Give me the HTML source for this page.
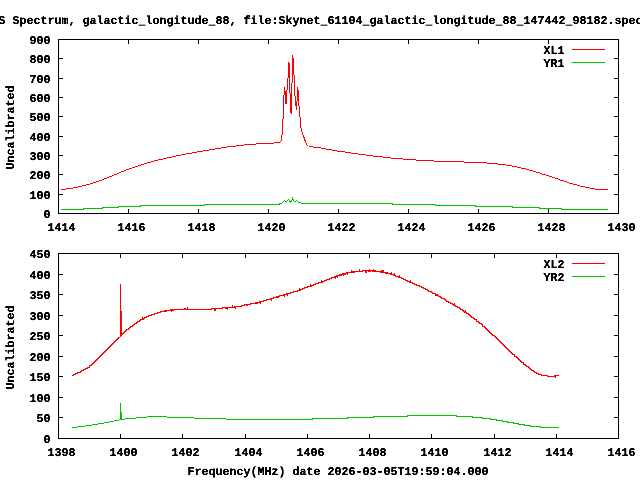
<!DOCTYPE html>
<html><head><meta charset="utf-8"><title>Spectrum</title>
<style>
html,body{margin:0;padding:0;background:#fff;overflow:hidden}
svg{display:block}
text{font-family:"Liberation Mono", "DejaVu Sans Mono", monospace;font-weight:bold;font-size:11.8px;fill:#000;stroke:#000;stroke-width:0.3px;text-rendering:geometricPrecision}
</style></head><body>
<svg width="640" height="480" viewBox="0 0 640 480">
<rect width="640" height="480" fill="#fff"/>
<defs><filter id="bin" x="0" y="0" width="640" height="480" filterUnits="userSpaceOnUse" color-interpolation-filters="sRGB"><feComponentTransfer><feFuncA type="linear" slope="2.2" intercept="-0.66"/></feComponentTransfer></filter></defs>
<rect x="58.5" y="39.5" width="560" height="174" fill="none" stroke="#000" stroke-width="1" shape-rendering="crispEdges"/>
<line x1="128.5" y1="209" x2="128.5" y2="213.5" stroke="#000" stroke-width="1" shape-rendering="crispEdges"/>
<line x1="128.5" y1="39.5" x2="128.5" y2="44" stroke="#000" stroke-width="1" shape-rendering="crispEdges"/>
<line x1="198.5" y1="209" x2="198.5" y2="213.5" stroke="#000" stroke-width="1" shape-rendering="crispEdges"/>
<line x1="198.5" y1="39.5" x2="198.5" y2="44" stroke="#000" stroke-width="1" shape-rendering="crispEdges"/>
<line x1="268.5" y1="209" x2="268.5" y2="213.5" stroke="#000" stroke-width="1" shape-rendering="crispEdges"/>
<line x1="268.5" y1="39.5" x2="268.5" y2="44" stroke="#000" stroke-width="1" shape-rendering="crispEdges"/>
<line x1="338.5" y1="209" x2="338.5" y2="213.5" stroke="#000" stroke-width="1" shape-rendering="crispEdges"/>
<line x1="338.5" y1="39.5" x2="338.5" y2="44" stroke="#000" stroke-width="1" shape-rendering="crispEdges"/>
<line x1="408.5" y1="209" x2="408.5" y2="213.5" stroke="#000" stroke-width="1" shape-rendering="crispEdges"/>
<line x1="408.5" y1="39.5" x2="408.5" y2="44" stroke="#000" stroke-width="1" shape-rendering="crispEdges"/>
<line x1="478.5" y1="209" x2="478.5" y2="213.5" stroke="#000" stroke-width="1" shape-rendering="crispEdges"/>
<line x1="478.5" y1="39.5" x2="478.5" y2="44" stroke="#000" stroke-width="1" shape-rendering="crispEdges"/>
<line x1="548.5" y1="209" x2="548.5" y2="213.5" stroke="#000" stroke-width="1" shape-rendering="crispEdges"/>
<line x1="548.5" y1="39.5" x2="548.5" y2="44" stroke="#000" stroke-width="1" shape-rendering="crispEdges"/>
<line x1="58.5" y1="194.5" x2="63" y2="194.5" stroke="#000" stroke-width="1" shape-rendering="crispEdges"/>
<line x1="614" y1="194.5" x2="618.5" y2="194.5" stroke="#000" stroke-width="1" shape-rendering="crispEdges"/>
<line x1="58.5" y1="174.5" x2="63" y2="174.5" stroke="#000" stroke-width="1" shape-rendering="crispEdges"/>
<line x1="614" y1="174.5" x2="618.5" y2="174.5" stroke="#000" stroke-width="1" shape-rendering="crispEdges"/>
<line x1="58.5" y1="155.5" x2="63" y2="155.5" stroke="#000" stroke-width="1" shape-rendering="crispEdges"/>
<line x1="614" y1="155.5" x2="618.5" y2="155.5" stroke="#000" stroke-width="1" shape-rendering="crispEdges"/>
<line x1="58.5" y1="136.5" x2="63" y2="136.5" stroke="#000" stroke-width="1" shape-rendering="crispEdges"/>
<line x1="614" y1="136.5" x2="618.5" y2="136.5" stroke="#000" stroke-width="1" shape-rendering="crispEdges"/>
<line x1="58.5" y1="116.5" x2="63" y2="116.5" stroke="#000" stroke-width="1" shape-rendering="crispEdges"/>
<line x1="614" y1="116.5" x2="618.5" y2="116.5" stroke="#000" stroke-width="1" shape-rendering="crispEdges"/>
<line x1="58.5" y1="97.5" x2="63" y2="97.5" stroke="#000" stroke-width="1" shape-rendering="crispEdges"/>
<line x1="614" y1="97.5" x2="618.5" y2="97.5" stroke="#000" stroke-width="1" shape-rendering="crispEdges"/>
<line x1="58.5" y1="78.5" x2="63" y2="78.5" stroke="#000" stroke-width="1" shape-rendering="crispEdges"/>
<line x1="614" y1="78.5" x2="618.5" y2="78.5" stroke="#000" stroke-width="1" shape-rendering="crispEdges"/>
<line x1="58.5" y1="58.5" x2="63" y2="58.5" stroke="#000" stroke-width="1" shape-rendering="crispEdges"/>
<line x1="614" y1="58.5" x2="618.5" y2="58.5" stroke="#000" stroke-width="1" shape-rendering="crispEdges"/>
<rect x="58.5" y="253.5" width="560" height="185" fill="none" stroke="#000" stroke-width="1" shape-rendering="crispEdges"/>
<line x1="120.5" y1="434" x2="120.5" y2="438.5" stroke="#000" stroke-width="1" shape-rendering="crispEdges"/>
<line x1="120.5" y1="253.5" x2="120.5" y2="258" stroke="#000" stroke-width="1" shape-rendering="crispEdges"/>
<line x1="182.5" y1="434" x2="182.5" y2="438.5" stroke="#000" stroke-width="1" shape-rendering="crispEdges"/>
<line x1="182.5" y1="253.5" x2="182.5" y2="258" stroke="#000" stroke-width="1" shape-rendering="crispEdges"/>
<line x1="245.5" y1="434" x2="245.5" y2="438.5" stroke="#000" stroke-width="1" shape-rendering="crispEdges"/>
<line x1="245.5" y1="253.5" x2="245.5" y2="258" stroke="#000" stroke-width="1" shape-rendering="crispEdges"/>
<line x1="307.5" y1="434" x2="307.5" y2="438.5" stroke="#000" stroke-width="1" shape-rendering="crispEdges"/>
<line x1="307.5" y1="253.5" x2="307.5" y2="258" stroke="#000" stroke-width="1" shape-rendering="crispEdges"/>
<line x1="369.5" y1="434" x2="369.5" y2="438.5" stroke="#000" stroke-width="1" shape-rendering="crispEdges"/>
<line x1="369.5" y1="253.5" x2="369.5" y2="258" stroke="#000" stroke-width="1" shape-rendering="crispEdges"/>
<line x1="431.5" y1="434" x2="431.5" y2="438.5" stroke="#000" stroke-width="1" shape-rendering="crispEdges"/>
<line x1="431.5" y1="253.5" x2="431.5" y2="258" stroke="#000" stroke-width="1" shape-rendering="crispEdges"/>
<line x1="494.5" y1="434" x2="494.5" y2="438.5" stroke="#000" stroke-width="1" shape-rendering="crispEdges"/>
<line x1="494.5" y1="253.5" x2="494.5" y2="258" stroke="#000" stroke-width="1" shape-rendering="crispEdges"/>
<line x1="556.5" y1="434" x2="556.5" y2="438.5" stroke="#000" stroke-width="1" shape-rendering="crispEdges"/>
<line x1="556.5" y1="253.5" x2="556.5" y2="258" stroke="#000" stroke-width="1" shape-rendering="crispEdges"/>
<line x1="58.5" y1="417.5" x2="63" y2="417.5" stroke="#000" stroke-width="1" shape-rendering="crispEdges"/>
<line x1="614" y1="417.5" x2="618.5" y2="417.5" stroke="#000" stroke-width="1" shape-rendering="crispEdges"/>
<line x1="58.5" y1="397.5" x2="63" y2="397.5" stroke="#000" stroke-width="1" shape-rendering="crispEdges"/>
<line x1="614" y1="397.5" x2="618.5" y2="397.5" stroke="#000" stroke-width="1" shape-rendering="crispEdges"/>
<line x1="58.5" y1="376.5" x2="63" y2="376.5" stroke="#000" stroke-width="1" shape-rendering="crispEdges"/>
<line x1="614" y1="376.5" x2="618.5" y2="376.5" stroke="#000" stroke-width="1" shape-rendering="crispEdges"/>
<line x1="58.5" y1="356.5" x2="63" y2="356.5" stroke="#000" stroke-width="1" shape-rendering="crispEdges"/>
<line x1="614" y1="356.5" x2="618.5" y2="356.5" stroke="#000" stroke-width="1" shape-rendering="crispEdges"/>
<line x1="58.5" y1="335.5" x2="63" y2="335.5" stroke="#000" stroke-width="1" shape-rendering="crispEdges"/>
<line x1="614" y1="335.5" x2="618.5" y2="335.5" stroke="#000" stroke-width="1" shape-rendering="crispEdges"/>
<line x1="58.5" y1="315.5" x2="63" y2="315.5" stroke="#000" stroke-width="1" shape-rendering="crispEdges"/>
<line x1="614" y1="315.5" x2="618.5" y2="315.5" stroke="#000" stroke-width="1" shape-rendering="crispEdges"/>
<line x1="58.5" y1="294.5" x2="63" y2="294.5" stroke="#000" stroke-width="1" shape-rendering="crispEdges"/>
<line x1="614" y1="294.5" x2="618.5" y2="294.5" stroke="#000" stroke-width="1" shape-rendering="crispEdges"/>
<line x1="58.5" y1="274.5" x2="63" y2="274.5" stroke="#000" stroke-width="1" shape-rendering="crispEdges"/>
<line x1="614" y1="274.5" x2="618.5" y2="274.5" stroke="#000" stroke-width="1" shape-rendering="crispEdges"/>
<line x1="572" y1="49.5" x2="605" y2="49.5" stroke="#ff0000" stroke-width="1" shape-rendering="crispEdges"/>
<line x1="572" y1="62.5" x2="605" y2="62.5" stroke="#00c000" stroke-width="1" shape-rendering="crispEdges"/>
<line x1="572" y1="263.5" x2="605" y2="263.5" stroke="#ff0000" stroke-width="1" shape-rendering="crispEdges"/>
<line x1="572" y1="276.5" x2="605" y2="276.5" stroke="#00c000" stroke-width="1" shape-rendering="crispEdges"/>
<polyline points="61,189.5 65.5,189.5 66.5,188.5 72.5,188.5 73.5,187.5 77.5,187.5 78.5,186.5 81.5,186.5 82.5,185.5 85.5,185.5 86.5,184.5 89.5,184.5 90.5,183.5 92.5,183.5 93.5,182.5 95.5,182.5 96.5,181.5 98.5,181.5 99.5,180.5 101.5,180.5 102.5,179.5 103.5,179.5 104.5,178.5 106.5,178.5 107.5,177.5 108.5,177.5 109.5,176.5 111.5,176.5 112.5,175.5 113.5,175.5 114.5,174.5 116.5,174.5 117.5,173.5 118.5,173.5 119.5,172.5 120.5,172.5 121.5,171.5 123.5,171.5 124.5,170.5 125.5,170.5 126.5,169.5 128.5,169.5 129.5,168.5 131.5,168.5 132.5,167.5 134.5,167.5 135.5,166.5 137.5,166.5 138.5,165.5 140.5,165.5 141.5,164.5 143.5,164.5 144.5,163.5 146.5,163.5 147.5,162.5 150.5,162.5 151.5,161.5 153.5,161.5 154.5,160.5 157.5,160.5 158.5,159.5 162.5,159.5 163.5,158.5 166.5,158.5 167.5,157.5 171.5,157.5 172.5,156.5 175.5,156.5 176.5,155.5 180.5,155.5 181.5,154.5 185.5,154.5 186.5,153.5 191.5,153.5 192.5,152.5 196.5,152.5 197.5,151.5 202.5,151.5 203.5,150.5 208.5,150.5 209.5,149.5 214.5,149.5 215.5,148.5 220.5,148.5 221.5,147.5 226.5,147.5 227.5,146.5 235.5,146.5 236.5,145.5 243.5,145.5 244.5,144.5 255.5,144.5 256.5,143.5 273.5,143.5 274.5,142.5 279.5,142.5 280.5,141.5" fill="none" stroke="#ff0000" stroke-width="1" shape-rendering="crispEdges"/>
<path d="M281.5 135V141M282.5 119V135M283.5 95V119M284.5 87V95M285.5 91V104M286.5 90V104M287.5 78V90M288.5 62V78M289.5 63V93M290.5 93V113M291.5 83V114M292.5 55V83M293.5 58V75M294.5 75V96M295.5 96V106M296.5 101V110M297.5 87V101M298.5 90V106M299.5 106V117M300.5 117V128M301.5 128V132M302.5 132V135M303.5 135V138M304.5 137V141M305.5 140V143M306.5 143V145M307.5 145V146" fill="none" stroke="#ff0000" stroke-width="1" shape-rendering="crispEdges"/>
<polyline points="308.5,146.5 312.5,146.5 313.5,147.5 320.5,147.5 321.5,148.5 325.5,148.5 326.5,149.5 331.5,149.5 332.5,150.5 336.5,150.5 337.5,151.5 344.5,151.5 345.5,152.5 350.5,152.5 351.5,153.5 357.5,153.5 358.5,154.5 365.5,154.5 366.5,155.5 372.5,155.5 373.5,156.5 382.5,156.5 383.5,157.5 390.5,157.5 391.5,158.5 402.5,158.5 403.5,159.5 415.5,159.5 416.5,160.5 433.5,160.5 434.5,161.5 463.5,161.5 464.5,162.5 486.5,162.5 487.5,163.5 497.5,163.5 498.5,164.5 505.5,164.5 506.5,165.5 511.5,165.5 512.5,166.5 516.5,166.5 517.5,167.5 520.5,167.5 521.5,168.5 525.5,168.5 526.5,169.5 528.5,169.5 529.5,170.5 532.5,170.5 533.5,171.5 535.5,171.5 536.5,172.5 539.5,172.5 540.5,173.5 541.5,173.5 542.5,174.5 545.5,174.5 546.5,175.5 548.5,175.5 549.5,176.5 551.5,176.5 552.5,177.5 554.5,177.5 555.5,178.5 557.5,178.5 558.5,179.5 559.5,179.5 560.5,180.5 563.5,180.5 564.5,181.5 566.5,181.5 567.5,182.5 568.5,182.5 569.5,183.5 572.5,183.5 573.5,184.5 576.5,184.5 577.5,185.5 579.5,185.5 580.5,186.5 584.5,186.5 585.5,187.5 589.5,187.5 590.5,188.5 594.5,188.5 595.5,189.5 607.5,189.5" fill="none" stroke="#ff0000" stroke-width="1" shape-rendering="crispEdges"/>
<polyline points="61,209.5 83,209.5 83,208.5 102,208.5 102,207.5 118,207.5 118,206.5 140,206.5 140,205.5 204,205.5 204,204.5 279,204.5 279.5,203.5 281.5,203.5 282.5,202.5 283.5,201.5 284.5,200.5 285.5,201.5 286.5,201.5 287.5,200.5 288.5,199.5 289.5,200.5 290.5,202.5 291.5,201.5 292.5,198.5 293.5,200.5 294.5,201.5 295.5,201.5 296.5,200.5 297.5,201.5 298.5,202.5 300.5,202.5 301.5,203.5 392,203.5 392,204.5 435,204.5 435,205.5 475,205.5 475,206.5 512.5,206.5 512.5,207.5 539.5,207.5 539.5,208.5 561.5,208.5 561.5,209.5 608,209.5" fill="none" stroke="#00c000" stroke-width="1" shape-rendering="crispEdges"/>
<polyline points="72,375.5 73,375.5 73.5,374.5 75.5,374.5 76,373.5 77.5,373.5 78,372.5 80,372.5 80.5,371.5 81.5,371.5 82,370.5 83.5,370.5 84,369.5 85.5,369.5 86,368.5 87.5,368.5 88,367.5 89,367.5 89.5,366.5 90,365.5 91,365.5 91.5,364.5 92,364.5 92.5,363.5 93,363.5 93.5,362.5 94,362.5 94.5,361.5 95,361.5 95.5,360.5 96,360.5 96.5,359.5 97,359.5 97.5,358.5 98,358.5 98.5,357.5 99,357.5 99.5,356.5 100,356.5 100.5,355.5 101,355.5 101.5,354.5 102,354.5 102.5,353.5 103,353.5 103.5,352.5 104,352.5 104.5,351.5 105,351.5 105.5,350.5 106,350.5 106.5,349.5 107,349.5 107.5,348.5 108,348.5 108.5,347.5 109,347.5 109.5,346.5 110,346.5 110.5,345.5 111,345.5 111.5,344.5 112,344.5 112.5,343.5 113,343.5 113.5,342.5 114,342.5 114.5,341.5 115,341.5 115.5,340.5 116.5,340.5 117,339.5 117.5,339.5 118,338.5 118.5,338.5 119,337.5 119.5,337.5 120.5,336.5 120.5,283.5 120.5,336.5 121.5,335.5 121.5,310.5 121.5,335.5 122.5,333.5 123,333.5 123.5,332.5 124.5,332.5 125,331.5 125.5,331.5 126,330.5 126.5,330.5 127,329.5 128,329.5 128.5,328.5 129.5,328.5 130,327.5 130.5,327.5 131,326.5 132.5,326.5 133,325.5 133.5,325.5 134,324.5 134.5,324.5 135,323.5 136.5,323.5 137,322.5 137.5,321.5 139,321.5 139.5,320.5 140,320.5 140.5,319.5 142,319.5 142.5,318.5 143,319.5 143.5,318.5 144,318.5 144.5,317.5 146.5,317.5 147,316.5 148,316.5 148.5,315.5 151.5,315.5 152,314.5 154.5,314.5 155,313.5 157,313.5 157.5,312.5 160.5,312.5 161,311.5 164,311.5 164.5,310.5 165.5,310.5 166,311.5 166.5,310.5 170.5,310.5 171,309.5 171.5,310.5 172,309.5 172.5,310.5 173,310.5 173.5,309.5 184.5,309.5 185,308.5 185.5,309.5 187,309.5 187.5,308.5 188,309.5 211.5,309.5 212,308.5 214,308.5 214.5,309.5 215,308.5 215.5,309.5 216,308.5 222.5,308.5 223,307.5 225,307.5 225.5,308.5 226.5,308.5 227,307.5 227.5,308.5 228,307.5 232,307.5 232.5,306.5 233,307.5 234.5,307.5 235,306.5 235.5,307.5 236,306.5 241,306.5 241.5,305.5 244,305.5 244.5,304.5 246.5,304.5 247,305.5 247.5,304.5 250.5,304.5 251,303.5 255,303.5 255.5,302.5 256.5,302.5 257,303.5 257.5,302.5 259,302.5 259.5,301.5 260,301.5 260.5,302.5 261,301.5 263,301.5 263.5,300.5 266.5,300.5 267,299.5 270,299.5 270.5,298.5 271,298.5 271.5,299.5 272,298.5 273,298.5 273.5,297.5 276,297.5 276.5,296.5 277.5,296.5 278,297.5 278.5,296.5 279.5,296.5 280,295.5 283,295.5 283.5,294.5 284,294.5 284.5,295.5 285,294.5 286.5,294.5 287,293.5 287.5,294.5 288,293.5 290,293.5 290.5,292.5 293.5,292.5 294,291.5 297,291.5 297.5,290.5 299,290.5 299.5,289.5 300,290.5 300.5,289.5 302.5,289.5 303,288.5 304.5,288.5 305,287.5 307,287.5 307.5,286.5 310,286.5 310.5,285.5 311,286.5 311.5,285.5 313,285.5 313.5,284.5 315.5,284.5 316,283.5 318.5,283.5 319,282.5 321,282.5 321.5,281.5 322,282.5 322.5,281.5 324.5,281.5 325,280.5 326,280.5 326.5,279.5 329,279.5 329.5,278.5 331.5,278.5 332,277.5 334.5,277.5 335,276.5 335.5,277.5 336,276.5 336.5,276.5 337,275.5 337.5,276.5 338,275.5 339.5,275.5 340,274.5 340.5,275.5 341,275.5 341.5,274.5 342.5,274.5 343,273.5 343.5,274.5 344,273.5 344.5,273.5 345,274.5 345.5,273.5 346.5,273.5 347,272.5 347.5,273.5 348,272.5 351,272.5 351.5,271.5 352,272.5 352.5,271.5 353.5,271.5 354,272.5 354.5,271.5 359,271.5 359.5,270.5 360,271.5 362.5,271.5 363,270.5 365,270.5 365.5,271.5 366,270.5 366.5,271.5 367,270.5 368,270.5 368.5,271.5 369,271.5 369.5,270.5 370,271.5 370.5,270.5 372,270.5 372.5,271.5 373,271.5 373.5,270.5 374,271.5 374.5,271.5 375,270.5 375.5,271.5 380,271.5 380.5,272.5 381,272.5 381.5,271.5 382,272.5 382.5,271.5 383,272.5 383.5,271.5 384,272.5 385.5,272.5 386,273.5 386.5,272.5 387,272.5 387.5,273.5 390.5,273.5 391,274.5 391.5,273.5 392,274.5 393,274.5 393.5,275.5 394,275.5 394.5,274.5 395,275.5 395.5,275.5 396,276.5 398.5,276.5 399,277.5 399.5,276.5 400,277.5 401.5,277.5 402,278.5 403,278.5 403.5,279.5 405.5,279.5 406,280.5 407,280.5 407.5,281.5 409.5,281.5 410,282.5 410.5,281.5 411,282.5 412,282.5 412.5,283.5 414,283.5 414.5,284.5 416.5,284.5 417,285.5 419.5,285.5 420,286.5 421.5,286.5 422,287.5 423,287.5 423.5,288.5 425.5,288.5 426,289.5 427.5,289.5 428,290.5 428.5,290.5 429,291.5 431.5,291.5 432,292.5 432.5,293.5 435,293.5 435.5,294.5 436,295.5 436.5,295.5 437,294.5 437.5,295.5 438.5,295.5 439,296.5 440,296.5 440.5,297.5 441.5,297.5 442,298.5 444,298.5 444.5,299.5 445.5,299.5 446,300.5 446.5,300.5 447,301.5 448.5,301.5 449,302.5 450,302.5 450.5,303.5 452,303.5 452.5,304.5 453.5,304.5 454,305.5 454.5,304.5 455,305.5 455.5,305.5 456,306.5 457.5,306.5 458,307.5 459,307.5 459.5,308.5 460.5,308.5 461,309.5 462,309.5 462.5,310.5 463,310.5 463.5,311.5 464.5,311.5 465,312.5 465.5,311.5 466,312.5 466.5,313.5 468,313.5 468.5,314.5 469,314.5 469.5,315.5 470,315.5 470.5,316.5 471.5,316.5 472,317.5 473.5,317.5 474,318.5 474.5,318.5 475,319.5 476,319.5 476.5,320.5 477,321.5 478.5,321.5 479,322.5 479.5,322.5 480,323.5 481,323.5 481.5,324.5 482,324.5 482.5,325.5 483,326.5 484,326.5 484.5,327.5 485.5,327.5 486,328.5 486.5,329.5 487.5,329.5 488,330.5 488.5,331.5 489.5,331.5 490,332.5 490.5,332.5 491,333.5 491.5,333.5 492,334.5 492.5,334.5 493,335.5 494,335.5 494.5,336.5 495,336.5 495.5,337.5 496,337.5 496.5,338.5 497,338.5 497.5,339.5 498.5,339.5 499,340.5 499.5,340.5 500,341.5 500.5,342.5 501.5,342.5 502,343.5 502.5,343.5 503,344.5 503.5,344.5 504,345.5 504.5,345.5 505,346.5 505.5,346.5 506,347.5 506.5,347.5 507,348.5 507.5,348.5 508,349.5 508.5,349.5 509,350.5 509.5,350.5 510,351.5 510.5,351.5 511,352.5 511.5,352.5 512,353.5 512.5,353.5 513,354.5 514,354.5 514.5,355.5 515,356.5 516,356.5 516.5,357.5 517.5,357.5 518,358.5 518.5,359.5 519.5,359.5 520,360.5 520.5,361.5 521.5,361.5 522,362.5 523,362.5 523.5,363.5 524,364.5 525,364.5 525.5,365.5 526.5,365.5 527,366.5 528,366.5 528.5,367.5 529,367.5 529.5,368.5 530.5,368.5 531,369.5 531.5,369.5 532,370.5 533,370.5 533.5,371.5 534,371.5 534.5,372.5 536,372.5 536.5,373.5 538,373.5 538.5,374.5 541,374.5 541.5,375.5 547,375.5 547.5,376.5 554.5,376.5 555,375.5 555.5,376.5 556,375.5 559,375.5" fill="none" stroke="#ff0000" stroke-width="1" shape-rendering="crispEdges"/>
<polyline points="72,427.5 76.5,427.5 77.5,426.5 84.5,426.5 85.5,425.5 91.5,425.5 92.5,424.5 97.5,424.5 98.5,423.5 103.5,423.5 104.5,422.5 108.5,422.5 109.5,421.5 113.5,421.5 114.5,420.5 118.5,420.5 119.5,419.5 120.5,419.5 120.5,402.5 120.5,419.5 121.5,419.5 121.5,411.5 121.5,419.5 124.5,419.5 125.5,418.5 135.5,418.5 136.5,417.5 146.5,417.5 147.5,416.5 166.5,416.5 167.5,417.5 193.5,417.5 194.5,418.5 225,418.5 227,419.5 312.5,419.5 312.5,418.5 347.5,418.5 347.5,417.5 373.7,417.5 373.7,416.5 407,416.5 407,415.5 456,415.5 456,416.5 472.5,416.5 472.5,417.5 482.5,417.5 482.5,418.5 490,418.5 490,419.5 496,419.5 496,420.5 502.5,420.5 502.5,421.5 507.5,421.5 507.5,422.5 513,422.5 513,423.5 518,423.5 518,424.5 524,424.5 524,425.5 530,425.5 530,426.5 540,426.5 540,427.5 559,427.5" fill="none" stroke="#00c000" stroke-width="1" shape-rendering="crispEdges"/>
<g filter="url(#bin)">
<text x="43.6" y="218" textLength="7" lengthAdjust="spacingAndGlyphs">0</text>
<text x="29.6" y="199" textLength="21" lengthAdjust="spacingAndGlyphs">100</text>
<text x="29.6" y="179" textLength="21" lengthAdjust="spacingAndGlyphs">200</text>
<text x="29.6" y="160" textLength="21" lengthAdjust="spacingAndGlyphs">300</text>
<text x="29.6" y="141" textLength="21" lengthAdjust="spacingAndGlyphs">400</text>
<text x="29.6" y="121" textLength="21" lengthAdjust="spacingAndGlyphs">500</text>
<text x="29.6" y="102" textLength="21" lengthAdjust="spacingAndGlyphs">600</text>
<text x="29.6" y="83" textLength="21" lengthAdjust="spacingAndGlyphs">700</text>
<text x="29.6" y="63" textLength="21" lengthAdjust="spacingAndGlyphs">800</text>
<text x="29.6" y="44" textLength="21" lengthAdjust="spacingAndGlyphs">900</text>
<text x="47.6" y="231" textLength="28" lengthAdjust="spacingAndGlyphs">1414</text>
<text x="117.6" y="231" textLength="28" lengthAdjust="spacingAndGlyphs">1416</text>
<text x="187.6" y="231" textLength="28" lengthAdjust="spacingAndGlyphs">1418</text>
<text x="257.6" y="231" textLength="28" lengthAdjust="spacingAndGlyphs">1420</text>
<text x="327.6" y="231" textLength="28" lengthAdjust="spacingAndGlyphs">1422</text>
<text x="397.6" y="231" textLength="28" lengthAdjust="spacingAndGlyphs">1424</text>
<text x="467.6" y="231" textLength="28" lengthAdjust="spacingAndGlyphs">1426</text>
<text x="537.6" y="231" textLength="28" lengthAdjust="spacingAndGlyphs">1428</text>
<text x="607.6" y="231" textLength="28" lengthAdjust="spacingAndGlyphs">1430</text>
<text x="43.6" y="443" textLength="7" lengthAdjust="spacingAndGlyphs">0</text>
<text x="36.6" y="422" textLength="14" lengthAdjust="spacingAndGlyphs">50</text>
<text x="29.6" y="402" textLength="21" lengthAdjust="spacingAndGlyphs">100</text>
<text x="29.6" y="381" textLength="21" lengthAdjust="spacingAndGlyphs">150</text>
<text x="29.6" y="361" textLength="21" lengthAdjust="spacingAndGlyphs">200</text>
<text x="29.6" y="340" textLength="21" lengthAdjust="spacingAndGlyphs">250</text>
<text x="29.6" y="320" textLength="21" lengthAdjust="spacingAndGlyphs">300</text>
<text x="29.6" y="299" textLength="21" lengthAdjust="spacingAndGlyphs">350</text>
<text x="29.6" y="279" textLength="21" lengthAdjust="spacingAndGlyphs">400</text>
<text x="29.6" y="258" textLength="21" lengthAdjust="spacingAndGlyphs">450</text>
<text x="47.6" y="456" textLength="28" lengthAdjust="spacingAndGlyphs">1398</text>
<text x="109.6" y="456" textLength="28" lengthAdjust="spacingAndGlyphs">1400</text>
<text x="171.6" y="456" textLength="28" lengthAdjust="spacingAndGlyphs">1402</text>
<text x="234.6" y="456" textLength="28" lengthAdjust="spacingAndGlyphs">1404</text>
<text x="296.6" y="456" textLength="28" lengthAdjust="spacingAndGlyphs">1406</text>
<text x="358.6" y="456" textLength="28" lengthAdjust="spacingAndGlyphs">1408</text>
<text x="420.6" y="456" textLength="28" lengthAdjust="spacingAndGlyphs">1410</text>
<text x="483.6" y="456" textLength="28" lengthAdjust="spacingAndGlyphs">1412</text>
<text x="545.6" y="456" textLength="28" lengthAdjust="spacingAndGlyphs">1414</text>
<text x="607.6" y="456" textLength="28" lengthAdjust="spacingAndGlyphs">1416</text>
<text x="-1.4" y="24" textLength="644" lengthAdjust="spacingAndGlyphs">S Spectrum, galactic_longitude_88, file:Skynet_61104_galactic_longitude_88_147442_98182.spec</text>
<text x="187.6" y="475" textLength="301" lengthAdjust="spacingAndGlyphs">Frequency(MHz) date 2026-03-05T19:59:04.000</text>
<text x="-42" y="0" textLength="84" lengthAdjust="spacingAndGlyphs" transform="translate(14 127.4) rotate(-90)">Uncalibrated</text>
<text x="-42" y="0" textLength="84" lengthAdjust="spacingAndGlyphs" transform="translate(14 347.4) rotate(-90)">Uncalibrated</text>
<text x="543.6" y="54" textLength="21" lengthAdjust="spacingAndGlyphs">XL1</text>
<text x="543.6" y="67" textLength="21" lengthAdjust="spacingAndGlyphs">YR1</text>
<text x="543.6" y="268" textLength="21" lengthAdjust="spacingAndGlyphs">XL2</text>
<text x="543.6" y="281" textLength="21" lengthAdjust="spacingAndGlyphs">YR2</text>
</g>
</svg>
</body></html>
